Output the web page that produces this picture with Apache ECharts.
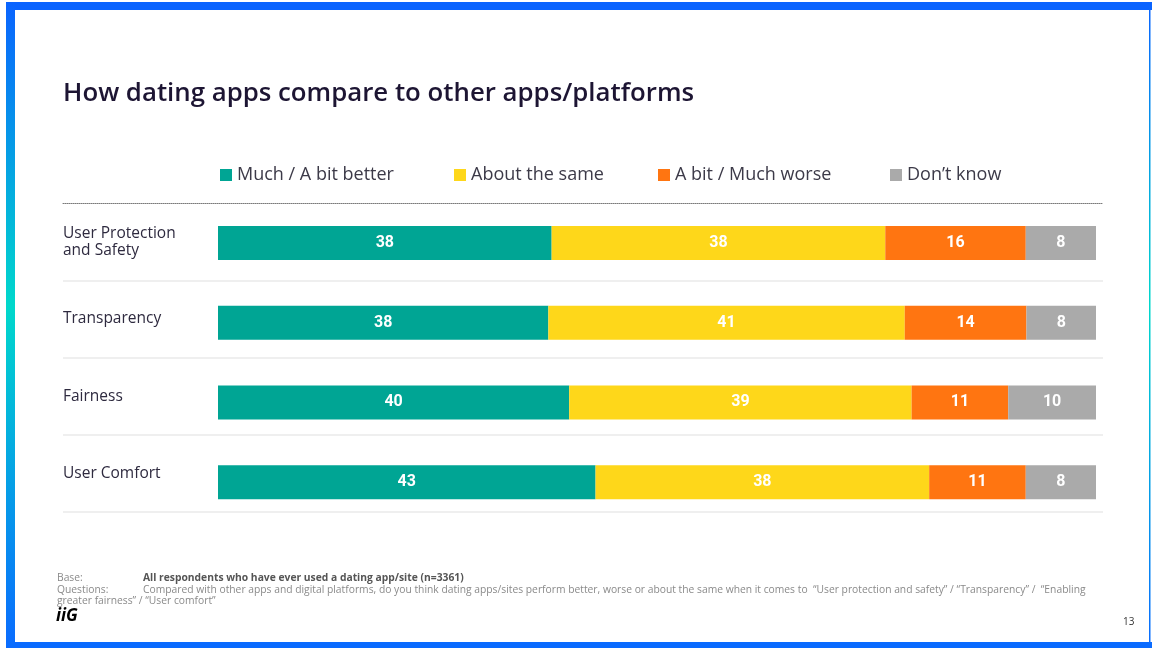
<!DOCTYPE html>
<html>
<head>
<meta charset="utf-8">
<title>How dating apps compare to other apps/platforms</title>
<script src="https://cdn.jsdelivr.net/npm/echarts@6/dist/echarts.min.js"></script>
<style>
  html, body { margin: 0; padding: 0; background: #ffffff; }
  #chart { width: 1152px; height: 648px; }
</style>
</head>
<body>
<div id="chart"></div>
<script>
// Survey rows and the four answer groups (percent of respondents)
const categories = ['User Protection\nand Safety', 'Transparency', 'Fairness', 'User Comfort'];
const seriesNames = ['Much / A bit better', 'About the same', 'A bit / Much worse', 'Don\u2019t know'];
const better = [38, 38, 40, 43];
const same = [38, 41, 39, 38];
const worse = [16, 14, 11, 11];
const dontKnow = [8, 8, 10, 8];
const seriesColors = ['#00a594', '#fed71a', '#ff7511', '#aaaaaa'];

const valueSets = [better, same, worse, dontKnow];
// Each row is drawn as a full-width bar: segments are shares of the row total
const rowTotals = categories.map((_, i) => valueSets.reduce((s, arr) => s + arr[i], 0));

const chart = echarts.init(document.getElementById('chart'));
const FONT = "'Open Sans', 'Noto Sans', sans-serif";

const series = valueSets.map((vals, k) => ({
  name: seriesNames[k],
  type: 'bar',
  stack: 'total',
  xAxisIndex: 0,
  yAxisIndex: 0,
  barWidth: 34,
  itemStyle: { color: seriesColors[k] },
  label: {
    show: true,
    position: 'inside',
    color: '#ffffff',
    fontFamily: 'Roboto, sans-serif',
    fontWeight: 'bold',
    fontSize: 16,
    formatter: p => String(p.data.raw)
  },
  emphasis: { disabled: true },
  data: vals.map((v, i) => ({ value: v / rowTotals[i] * 100, raw: v }))
}));

const legendLefts = [220, 454, 658, 890];
const legends = seriesNames.map((n, k) => ({
  data: [n],
  left: legendLefts[k],
  top: 165,
  padding: 0,
  icon: 'rect',
  itemWidth: 12,
  itemHeight: 12,
  selectedMode: false,
  textStyle: { fontFamily: FONT, fontSize: 18, color: '#3c3a48', lineHeight: 20 }
}));

// Gradient used on the slide frame
const frameGradient = new echarts.graphic.LinearGradient(0, 0, 0, 1, [
  { offset: 0, color: '#0a63ff' },
  { offset: 0.47, color: '#00d8cb' },
  { offset: 1, color: '#0a6bff' }
]);

const footText = 'Compared with other apps and digital platforms, do you think dating apps/sites perform better, worse or about the same when it comes to  \u201cUser protection and safety\u201d / \u201cTransparency\u201d /  \u201cEnabling';

chart.setOption({
  animation: false,
  backgroundColor: '#ffffff',
  title: {
    text: 'How dating apps compare to other apps/platforms',
    left: 63,
    top: 81,
    padding: 0,
    textStyle: { fontFamily: FONT, fontSize: 25.8, fontWeight: 600, color: '#1d1533' }
  },
  legend: legends,
  grid: [
    // bars
    { left: 218, right: 56, top: 203, height: 319, containLabel: false },
    // row labels, separators and the dotted header rule
    { left: 63, right: 49, top: 203, height: 309, containLabel: false }
  ],
  xAxis: [
    { gridIndex: 0, type: 'value', min: 0, max: 100, show: false },
    {
      gridIndex: 1, type: 'value', position: 'top',
      axisLine: { show: true, lineStyle: { color: '#7a7a7a', type: [1, 1], width: 1 } },
      axisTick: { show: false }, axisLabel: { show: false }, splitLine: { show: false }
    }
  ],
  yAxis: [
    { gridIndex: 0, type: 'category', inverse: true, data: categories, show: false },
    {
      gridIndex: 1, type: 'category', inverse: true, data: categories,
      axisLine: { show: false }, axisTick: { show: false },
      axisLabel: {
        inside: true, margin: 0, align: 'left',
        fontFamily: FONT, fontSize: 15.5, color: '#2e2a3f', lineHeight: 17
      },
      splitLine: {
        show: true,
        interval: (i) => i > 0,
        lineStyle: { color: '#efefef', width: 2 }
      }
    }
  ],
  series: series,
  graphic: [
    // frame
    { type: 'rect', shape: { x: 6, y: 2, width: 1146, height: 8 }, style: { fill: '#0a63ff' }, silent: true },
    { type: 'rect', shape: { x: 6, y: 642, width: 1146, height: 6 }, style: { fill: '#0a6bff' }, silent: true },
    { type: 'rect', shape: { x: 6, y: 2, width: 9, height: 646 }, style: { fill: frameGradient }, silent: true },
    { type: 'rect', shape: { x: 1149, y: 2, width: 1.5, height: 646 }, style: { fill: frameGradient }, silent: true },
    // footnotes
    { type: 'text', left: 57, top: 573, style: { text: 'Base:', fontFamily: FONT, fontSize: 10.3, fill: '#8a8a8a' } },
    { type: 'text', left: 143, top: 573, style: { text: 'All respondents who have ever used a dating app/site (n=3361)', fontFamily: FONT, fontSize: 10.3, fontWeight: 'bold', fill: '#555555' } },
    { type: 'text', left: 57, top: 585, style: { text: 'Questions:', fontFamily: FONT, fontSize: 10.3, fill: '#8a8a8a' } },
    { type: 'text', left: 143, top: 585, style: { text: footText, fontFamily: FONT, fontSize: 10.3, fill: '#8a8a8a' } },
    { type: 'text', left: 57, top: 596, style: { text: 'greater fairness\u201d / \u201cUser comfort\u201d', fontFamily: FONT, fontSize: 10.3, fill: '#8a8a8a' } },
    { type: 'text', left: 56, top: 608, style: { text: 'iiG', fontFamily: FONT, fontSize: 17, fontWeight: 'bold', fontStyle: 'italic', fill: new echarts.graphic.LinearGradient(0, 0, 1, 0, [{ offset: 0, color: '#1160ff' }, { offset: 1, color: '#16d0d6' }]) } },
    { type: 'text', left: 1123, top: 617, style: { text: '13', fontFamily: FONT, fontSize: 10, fill: '#333333' } }
  ]
});
</script>
</body>
</html>
